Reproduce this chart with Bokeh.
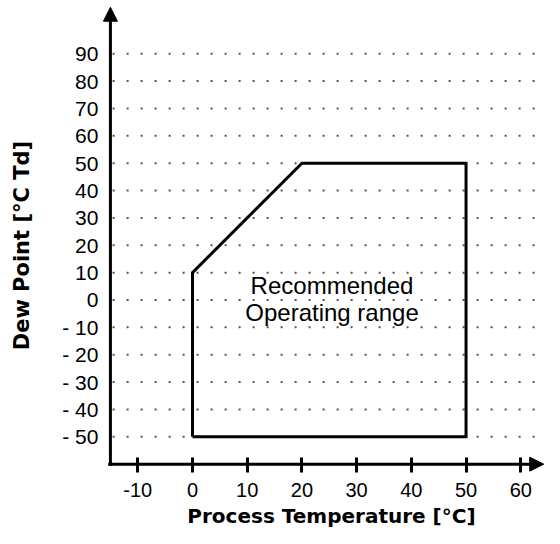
import math
from bokeh.plotting import figure
from bokeh.models import Range1d, LinearAxis, FixedTicker, Arrow, NormalHead, Label
from bokeh.core.properties import value
from bokeh.embed import file_html
from bokeh.resources import INLINE

# ---- data ----
x_ticks = [-10, 0, 10, 20, 30, 40, 50, 60]
x_tick_labels = {-10: "-10"}
y_ticks = [-50, -40, -30, -20, -10, 0, 10, 20, 30, 40, 50, 60, 70, 80, 90]
y_tick_labels = {-50: "- 50", -40: "- 40", -30: "- 30", -20: "- 20", -10: "- 10"}
range_temp = [0, 0, 20, 50, 50, 0]
range_dew = [-50, 10, 50, 50, -50, -50]
region_text = ["Recommended", "Operating range"]
x_title = "Process Temperature [°C]"
y_title = "Dew Point [°C Td]"

# ---- figure ----
p = figure(width=544, height=528,
           x_range=Range1d(-35.09, 64.34), y_range=Range1d(-83.52, 109.46),
           output_backend="svg", toolbar_location=None, min_border=0,
           x_axis_type=None, y_axis_type=None)
p.outline_line_color = None
p.background_fill_color = "white"
p.border_fill_color = "white"

# dotted horizontal grid
n = len(y_ticks)
p.segment(x0=[-14.6] * n, x1=[63.8] * n, y0=y_ticks, y1=y_ticks,
          line_dash="2 12", line_width=2, line_color="#555555")

# operating range polygon
p.line(range_temp, range_dew, line_width=3, line_color="black", line_join="miter")

# region text
p.text(x=[25.5, 25.5], y=[5.3, -4.6], text=region_text,
       text_font=value("Liberation Sans"), text_font_size="24px",
       text_align="center", text_baseline="alphabetic", text_color="black")

# axes
xaxis = LinearAxis(fixed_location=-60, ticker=FixedTicker(ticks=x_ticks),
                   major_label_overrides=x_tick_labels,
                   axis_line_color=None, major_tick_in=7, major_tick_out=8,
                   major_tick_line_width=3, major_tick_line_color="black",
                   minor_tick_line_color=None,
                   major_label_text_font="Liberation Sans",
                   major_label_text_font_size="20px",
                   major_label_text_color="black", major_label_standoff=11)
p.add_layout(xaxis, "below")

yaxis = LinearAxis(fixed_location=-15, ticker=FixedTicker(ticks=y_ticks),
                   major_label_overrides=y_tick_labels,
                   axis_line_color=None, major_tick_in=0, major_tick_out=0,
                   major_tick_line_color=None, minor_tick_line_color=None,
                   major_label_text_font="Liberation Sans",
                   major_label_text_font_size="21px",
                   major_label_text_color="black", major_label_standoff=12)
p.add_layout(yaxis, "left")

# axis lines with arrows
p.add_layout(Arrow(end=NormalHead(size=14, fill_color="black", line_color="black"),
                   x_start=-15, y_start=-60.6, x_end=-15, y_end=107.0,
                   line_width=3, line_color="black"))
p.add_layout(Arrow(end=NormalHead(size=14, fill_color="black", line_color="black"),
                   x_start=-15.4, y_start=-60, x_end=64.2, y_end=-60,
                   line_width=3, line_color="black"))

# axis titles
p.add_layout(Label(x=25.4, y=-79.1, text=x_title, text_font="DejaVu Sans",
                   text_font_style="bold", text_font_size="20px",
                   text_align="center", text_baseline="alphabetic", text_color="black"))
p.add_layout(Label(x=-31.1, y=19.9, text=y_title, angle=math.pi / 2,
                   text_font="DejaVu Sans", text_font_style="bold",
                   text_font_size="21px", text_align="center",
                   text_baseline="middle", text_color="black"))

open("out.html", "w").write(file_html(p, INLINE))
